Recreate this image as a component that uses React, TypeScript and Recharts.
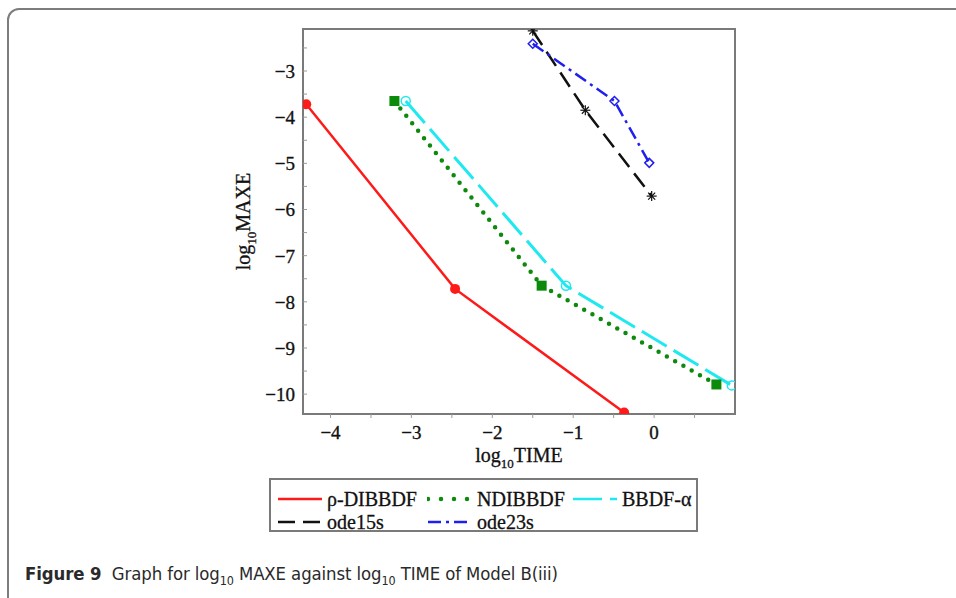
import React from 'react'
import { LineChart, Line, XAxis, YAxis, ReferenceArea } from 'recharts'

// log10 TIME / log10 MAXE
const RHO_X = [-4.3, -2.46, -0.37]
const RHO_Y = [-3.72, -7.72, -10.4]
const ND_X = [-3.21, -1.39, 0.77]
const ND_Y = [-3.65, -7.65, -9.79]
const BB_X = [-3.07, -1.09, 0.96]
const BB_Y = [-3.65, -7.65, -9.81]
const ODE15_X = [-1.5, -0.85, -0.03]
const ODE15_Y = [-2.13, -3.85, -5.71]
const ODE23_X = [-1.5, -0.49, -0.06]
const ODE23_Y = [-2.41, -3.65, -4.99]

const X_TICKS = [-4, -3.5, -3, -2.5, -2, -1.5, -1, -0.5, 0, 0.5]
const Y_TICKS = [-10, -9.5, -9, -8.5, -8, -7.5, -7, -6.5, -6, -5.5, -5, -4.5, -4, -3.5, -3, -2.5]
const X_DOMAIN = [-4.34, 1.0]
const Y_DOMAIN = [-10.43, -2.09]

const toPoints = (xs: number[], ys: number[]) => xs.map((x, i) => ({ x, y: ys[i] }))

type Marker = 'circle' | 'square' | 'ring' | 'star' | 'diamond'

const SERIF = '"Liberation Serif", "Times New Roman", serif'

const SERIES: Array<{
  name: string
  color: string
  dash?: string
  cap?: 'round' | 'butt'
  width: number
  marker: Marker
  data: Array<{ x: number; y: number }>
}> = [
  { name: 'ρ-DIBBDF', color: '#ff1a1a', width: 2.5, marker: 'circle', data: toPoints(RHO_X, RHO_Y) },
  { name: 'BBDF-α', color: '#1ee8f0', dash: '29 8', width: 3, marker: 'ring', data: toPoints(BB_X, BB_Y) },
  { name: 'NDIBBDF', color: '#0b8a0b', dash: '0 9.5', cap: 'round', width: 4.5, marker: 'square', data: toPoints(ND_X, ND_Y) },
  { name: 'ode15s', color: '#111111', dash: '17 8', width: 2.5, marker: 'star', data: toPoints(ODE15_X, ODE15_Y) },
  { name: 'ode23s', color: '#2020ee', dash: '13 5 3 5', width: 2.5, marker: 'diamond', data: toPoints(ODE23_X, ODE23_Y) },
]

const LEGEND_ORDER = ['ρ-DIBBDF', 'NDIBBDF', 'BBDF-α', 'ode15s', 'ode23s']

const drawMarker = (kind: Marker, color: string) => (p: any) => {
  const { cx, cy, index } = p
  const k = `m-${kind}-${index}`
  if (cx == null || cy == null) return <g key={k} />
  switch (kind) {
    case 'circle':
      return <circle key={k} cx={cx} cy={cy} r={5} fill={color} />
    case 'square':
      return <rect key={k} x={cx - 5} y={cy - 5} width={10} height={10} fill={color} />
    case 'ring':
      return <circle key={k} cx={cx} cy={cy} r={4.5} fill="none" stroke={color} strokeWidth={1.5} />
    case 'diamond':
      return (
        <path key={k} d={`M${cx},${cy - 4.5} L${cx + 4.5},${cy} L${cx},${cy + 4.5} L${cx - 4.5},${cy} Z`}
          fill="none" stroke={color} strokeWidth={1.5} />
      )
    default:
      return (
        <g key={k} stroke={color} strokeWidth={1.2}>
          <line x1={cx - 5} y1={cy} x2={cx + 5} y2={cy} />
          <line x1={cx} y1={cy - 5} x2={cx} y2={cy + 5} />
          <line x1={cx - 3.5} y1={cy - 3.5} x2={cx + 3.5} y2={cy + 3.5} />
          <line x1={cx - 3.5} y1={cy + 3.5} x2={cx + 3.5} y2={cy - 3.5} />
        </g>
      )
  }
}

const fmt = (v: number) => (v < 0 ? '\u2212' + Math.abs(v) : String(v))

const XTick = (p: any) => {
  const v = p.payload.value
  if (!Number.isInteger(v)) return <g />
  return (
    <text x={p.x} y={p.y} dy="0.71em" textAnchor="middle" fontSize={19} fill="#111"
      stroke="#111" strokeWidth={0.35} fontFamily={SERIF}>{fmt(v)}</text>
  )
}

const YTick = (p: any) => {
  const v = p.payload.value
  if (!Number.isInteger(v)) return <g />
  return (
    <text x={p.x} y={p.y} dy="0.36em" textAnchor="end" fontSize={19} fill="#111"
      stroke="#111" strokeWidth={0.35} fontFamily={SERIF}>{fmt(v)}</text>
  )
}

const XLabel = (p: any) => {
  const { x, y, width } = p.viewBox
  return (
    <text x={x + width / 2} y={y + 48} textAnchor="middle" fontSize={20} fill="#111"
      stroke="#111" strokeWidth={0.3} fontFamily={SERIF}>
      log<tspan fontSize={13} dy={6}>10</tspan><tspan dy={-6}>TIME</tspan>
    </text>
  )
}

const YLabel = (p: any) => {
  const { x, y, height } = p.viewBox
  const cx = x - 3
  const cy = y + height / 2
  return (
    <text x={cx} y={cy} textAnchor="middle" fontSize={20} fill="#111" transform={`rotate(-90 ${cx} ${cy})`}
      stroke="#111" strokeWidth={0.3} fontFamily={SERIF}>
      log<tspan fontSize={13} dy={6}>10</tspan><tspan dy={-6}>MAXE</tspan>
    </text>
  )
}

const LegendBox = () => {
  const cols = [6, 156, 301]
  const rows = [19, 42]
  return (
    <div style={{
      position: 'absolute', left: 269, top: 478, width: 429, height: 54, boxSizing: 'border-box',
      border: '2px solid #7a7a7a', background: '#fff',
    }}>
      {LEGEND_ORDER.map((name, i) => {
        const s = SERIES.find((e) => e.name === name)!
        const left = cols[i % 3]
        const top = rows[Math.floor(i / 3)]
        return (
          <div key={name} style={{ position: 'absolute', left, top: top - 12, height: 24, display: 'flex', alignItems: 'center' }}>
            <svg width={46} height={10} style={{ display: 'block' }}>
              <line x1={1} y1={5} x2={45} y2={5} stroke={s.color} strokeWidth={s.marker === 'square' ? 4.5 : 2.5}
                strokeDasharray={s.marker === 'square' ? '0 13' : s.dash} strokeLinecap={s.cap || 'butt'} />
            </svg>
            <span style={{
              marginLeft: 4, fontSize: 20, color: '#111', lineHeight: '24px', WebkitTextStroke: '0.3px #111',
              fontFamily: SERIF, whiteSpace: 'nowrap',
            }}>{name}</span>
          </div>
        )
      })}
    </div>
  )
}

export default function App() {
  return (
    <div style={{ position: 'fixed', left: 0, top: 0, width: 956, height: 598, overflow: 'hidden', background: '#fff' }}>
      <div style={{
        position: 'absolute', left: 7, top: 8, width: 1000, height: 640, boxSizing: 'border-box',
        border: '2px solid #7d7d7d', borderRadius: 12,
      }} />
      <div style={{ position: 'absolute', left: 0, top: 0 }}>
        <LineChart width={956} height={598} margin={{ top: 29, right: 221, bottom: 134, left: 253 }}>
          <XAxis type="number" dataKey="x" domain={X_DOMAIN} ticks={X_TICKS} allowDataOverflow interval={0}
            height={50} axisLine={false} tickSize={4} tickMargin={8} tick={<XTick />}
            tickLine={{ stroke: '#9a9a9a', strokeWidth: 1 }} label={<XLabel />} />
          <YAxis type="number" dataKey="y" domain={Y_DOMAIN} ticks={Y_TICKS} allowDataOverflow interval={0}
            width={50} axisLine={false} tickSize={-4} tickMargin={12} tick={<YTick />}
            tickLine={{ stroke: '#9a9a9a', strokeWidth: 1 }} label={<YLabel />} />
          <ReferenceArea x1={X_DOMAIN[0]} x2={X_DOMAIN[1]} y1={Y_DOMAIN[0]} y2={Y_DOMAIN[1]}
            fill="none" stroke="#7a7a7a" strokeWidth={2} ifOverflow="visible" />
          {SERIES.map((s) => (
            <Line key={s.name} data={s.data} dataKey="y" name={s.name} type="linear"
              stroke={s.color} strokeWidth={s.width} strokeDasharray={s.dash} strokeLinecap={s.cap || 'butt'}
              dot={drawMarker(s.marker, s.color)} activeDot={false} isAnimationActive={false} />
          ))}
        </LineChart>
      </div>
      <LegendBox />
      <div style={{
        position: 'absolute', left: 25, top: 563, fontSize: 18.4, color: '#2a2a2a', whiteSpace: 'nowrap',
        fontFamily: '"DejaVu Sans Condensed", "Open Sans", sans-serif', fontStretch: 'condensed',
        letterSpacing: -0.1,
      }}>
        <b>Figure 9</b>&nbsp; Graph for log<sub style={{ fontSize: 12.5 }}>10</sub> MAXE against log
        <sub style={{ fontSize: 12.5 }}>10</sub> TIME of Model B(iii)
      </div>
    </div>
  )
}
